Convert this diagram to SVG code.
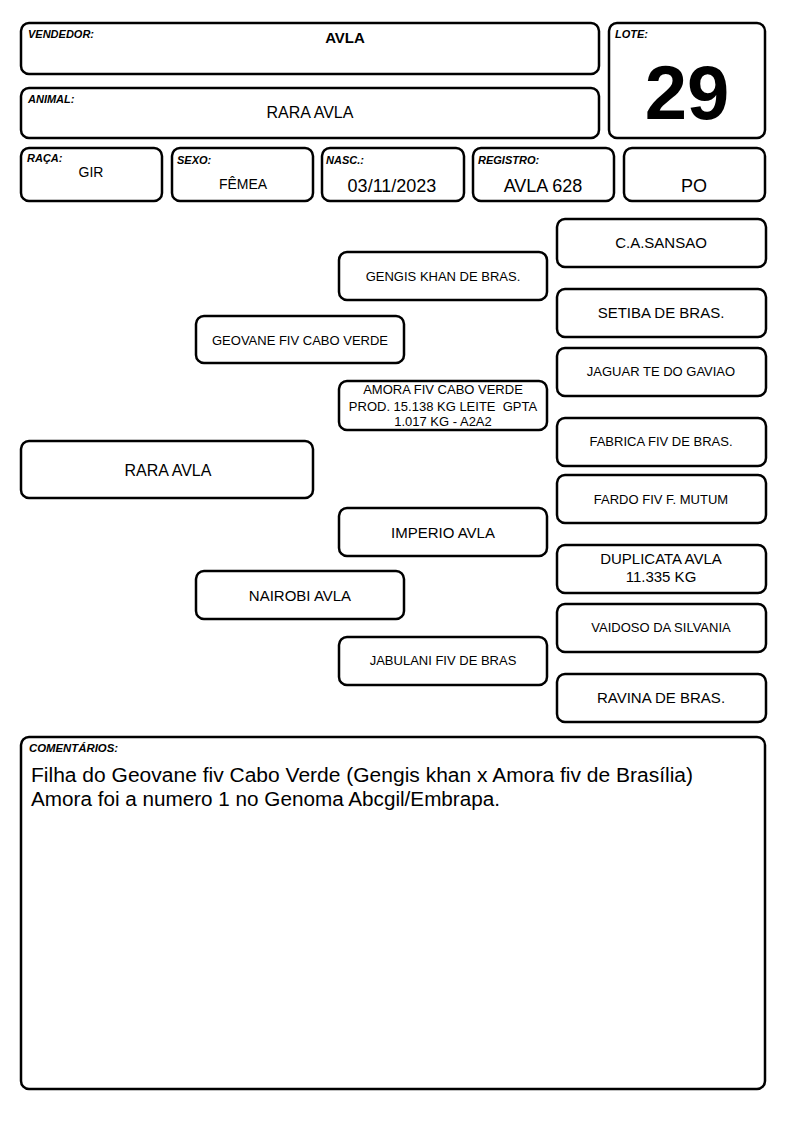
<svg xmlns="http://www.w3.org/2000/svg" width="794" height="1123" viewBox="0 0 794 1123">
<style>
.b{fill:#fff;stroke:#000;stroke-width:2.5}
text{font-family:"Liberation Sans",Arial,sans-serif;fill:#000}
.l{font-size:11px;font-weight:bold;font-style:italic}
.c{text-anchor:middle}
.s13{font-size:13px}
.s15{font-size:15px}
.s16{font-size:16px}
.s18{font-size:18px}
</style>
<rect width="794" height="1123" fill="#fff"/>
<g id="vendedor"><rect class="b" x="21" y="23" width="578" height="51" rx="8"/><text class="l" x="28" y="38">VENDEDOR:</text><text class="c" x="345" y="43" font-size="15" font-weight="bold">AVLA</text></g>
<g id="lote"><rect class="b" x="609" y="23" width="156" height="115" rx="8"/><text class="l" x="615" y="38">LOTE:</text><text class="c" x="687" y="119" font-size="76" font-weight="bold">29</text></g>
<g id="animal"><rect class="b" x="21" y="88" width="578" height="50" rx="8"/><text class="l" x="28" y="103">ANIMAL:</text><text class="c s16" x="310" y="118">RARA AVLA</text></g>
<g id="raca"><rect class="b" x="21" y="148" width="141" height="53" rx="8"/><text class="l" x="27" y="162">RAÇA:</text><text class="c" x="91" y="177" font-size="14">GIR</text></g>
<g id="sexo"><rect class="b" x="172" y="148" width="141" height="53" rx="8"/><text class="l" x="177" y="164">SEXO:</text><text class="c" x="243" y="189" font-size="14">FÊMEA</text></g>
<g id="nasc"><rect class="b" x="322" y="148" width="142" height="53" rx="8"/><text class="l" x="326" y="164">NASC.:</text><text class="c s18" x="392" y="192">03/11/2023</text></g>
<g id="registro"><rect class="b" x="473" y="148" width="141" height="53" rx="8"/><text class="l" x="478" y="164">REGISTRO:</text><text class="c s18" x="543" y="192">AVLA 628</text></g>
<g id="po"><rect class="b" x="624" y="148" width="141" height="53" rx="8"/><text class="c s18" x="694" y="192">PO</text></g>

<g id="p-sansao"><rect class="b" x="557" y="219" width="209" height="48" rx="8"/><text class="c s15" x="661" y="248">C.A.SANSAO</text></g>
<g id="p-setiba"><rect class="b" x="557" y="289" width="209" height="48" rx="8"/><text class="c s15" x="661" y="318">SETIBA DE BRAS.</text></g>
<g id="p-jaguar"><rect class="b" x="557" y="348" width="209" height="48" rx="8"/><text class="c s13" x="661" y="376">JAGUAR TE DO GAVIAO</text></g>
<g id="p-fabrica"><rect class="b" x="557" y="418" width="209" height="48" rx="8"/><text class="c s13" x="661" y="446">FABRICA FIV DE BRAS.</text></g>
<g id="p-fardo"><rect class="b" x="557" y="475" width="209" height="48" rx="8"/><text class="c s13" x="661" y="504">FARDO FIV F. MUTUM</text></g>
<g id="p-duplicata"><rect class="b" x="557" y="545" width="209" height="48" rx="8"/><text class="c s15" x="661" y="564">DUPLICATA AVLA</text><text class="c s15" x="661" y="582">11.335 KG</text></g>
<g id="p-vaidoso"><rect class="b" x="557" y="604" width="209" height="48" rx="8"/><text class="c s13" x="661" y="632">VAIDOSO DA SILVANIA</text></g>
<g id="p-ravina"><rect class="b" x="557" y="674" width="209" height="48" rx="8"/><text class="c s15" x="661" y="703">RAVINA DE BRAS.</text></g>

<g id="p-gengis"><rect class="b" x="339" y="252" width="208" height="48" rx="8"/><text class="c s13" x="443" y="281">GENGIS KHAN DE BRAS.</text></g>
<g id="p-amora"><rect class="b" x="339" y="381" width="208" height="49" rx="8"/><text class="c s13" x="443" y="394">AMORA FIV CABO VERDE</text><text class="c s13" x="443" y="411">PROD. 15.138 KG LEITE &#160;GPTA</text><text class="c s13" x="443" y="426">1.017 KG - A2A2</text></g>
<g id="p-imperio"><rect class="b" x="339" y="508" width="208" height="48" rx="8"/><text class="c s15" x="443" y="538">IMPERIO AVLA</text></g>
<g id="p-jabulani"><rect class="b" x="339" y="637" width="208" height="48" rx="8"/><text class="c s13" x="443" y="665">JABULANI FIV DE BRAS</text></g>

<g id="p-geovane"><rect class="b" x="196" y="316" width="208" height="47" rx="8"/><text class="c s13" x="300" y="345">GEOVANE FIV CABO VERDE</text></g>
<g id="p-nairobi"><rect class="b" x="196" y="571" width="208" height="48" rx="8"/><text class="c s15" x="300" y="601">NAIROBI AVLA</text></g>

<g id="p-rara"><rect class="b" x="21" y="441" width="292" height="57" rx="8"/><text class="c s16" x="168" y="476">RARA AVLA</text></g>

<g id="comentarios"><rect class="b" x="21" y="737" width="744" height="352" rx="8"/><text class="l" x="29" y="752" textLength="89" lengthAdjust="spacingAndGlyphs">COMENTÁRIOS:</text><text x="31" y="782" font-size="20" textLength="662" lengthAdjust="spacingAndGlyphs">Filha do Geovane fiv Cabo Verde (Gengis khan x Amora fiv de Brasília)</text><text x="31" y="806" font-size="20" textLength="469" lengthAdjust="spacingAndGlyphs">Amora foi a numero 1 no Genoma Abcgil/Embrapa.</text></g>
<g id="connectors"/>
</svg>
